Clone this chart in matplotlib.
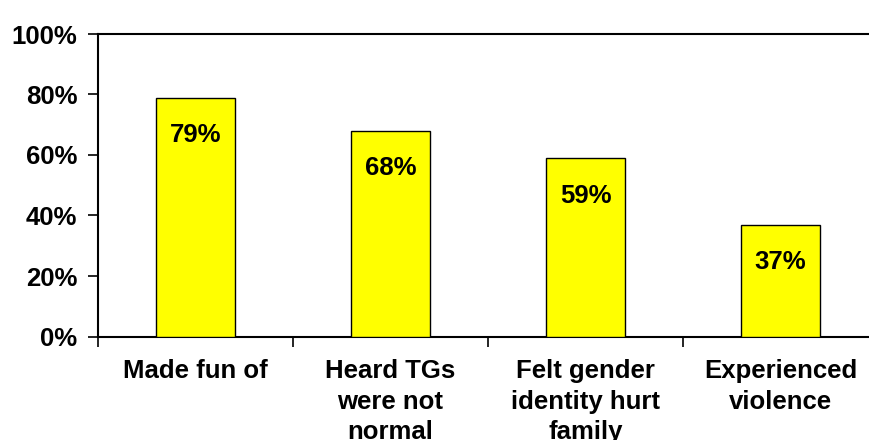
import matplotlib
matplotlib.use("Agg")
import matplotlib.pyplot as plt
from matplotlib.ticker import FixedLocator, PercentFormatter

categories = ["Made fun of", "Heard TGs\nwere not\nnormal", "Felt gender\nidentity hurt\nfamily", "Experienced\nviolence"]
values = [0.79, 0.68, 0.59, 0.37]
value_labels = ["79%", "68%", "59%", "37%"]
yticks = [0, 0.2, 0.4, 0.6, 0.8, 1.0]

plt.rcParams['font.family'] = ['Liberation Sans', 'DejaVu Sans']
plt.rcParams['font.weight'] = 'bold'

fig = plt.figure(figsize=(8.69, 4.4), dpi=100)
ax = fig.add_axes([98/869, 1 - 336.5/440, 780/869, 302.5/440])

x = list(range(len(categories)))
bars = ax.bar(x, values, width=0.405, color="#FFFF00", edgecolor="black", linewidth=1.0, zorder=3)
for b, lab in zip(bars, value_labels):
    ax.annotate(lab, (b.get_x() + b.get_width()/2, b.get_height()), xytext=(0, -27),
                textcoords="offset points", ha="center", va="center",
                fontsize=18.5, fontweight="bold", zorder=4)

ax.set_xlim(-0.5, len(categories) - 0.5)
ax.set_ylim(0, 1.0)
ax.set_yticks(yticks)
ax.yaxis.set_major_formatter(PercentFormatter(1.0, decimals=0))
ax.tick_params(axis='y', length=7, width=1.2, labelsize=18.5, pad=8, direction='out')

ax.xaxis.set_major_locator(FixedLocator([i - 0.5 for i in range(len(categories) + 1)]))
ax.xaxis.set_major_formatter(plt.NullFormatter())
ax.xaxis.set_minor_locator(FixedLocator(x))
ax.set_xticklabels(categories, minor=True, fontsize=18.5, fontweight='bold', linespacing=1.36)
ax.tick_params(axis='x', which='major', length=7, width=1.2, direction='out')
ax.tick_params(axis='x', which='minor', length=0, pad=16)

for s in ['left', 'bottom', 'top']:
    ax.spines[s].set_linewidth(1.5)
ax.spines['right'].set_visible(False)

fig.savefig("out.png", dpi=100)
